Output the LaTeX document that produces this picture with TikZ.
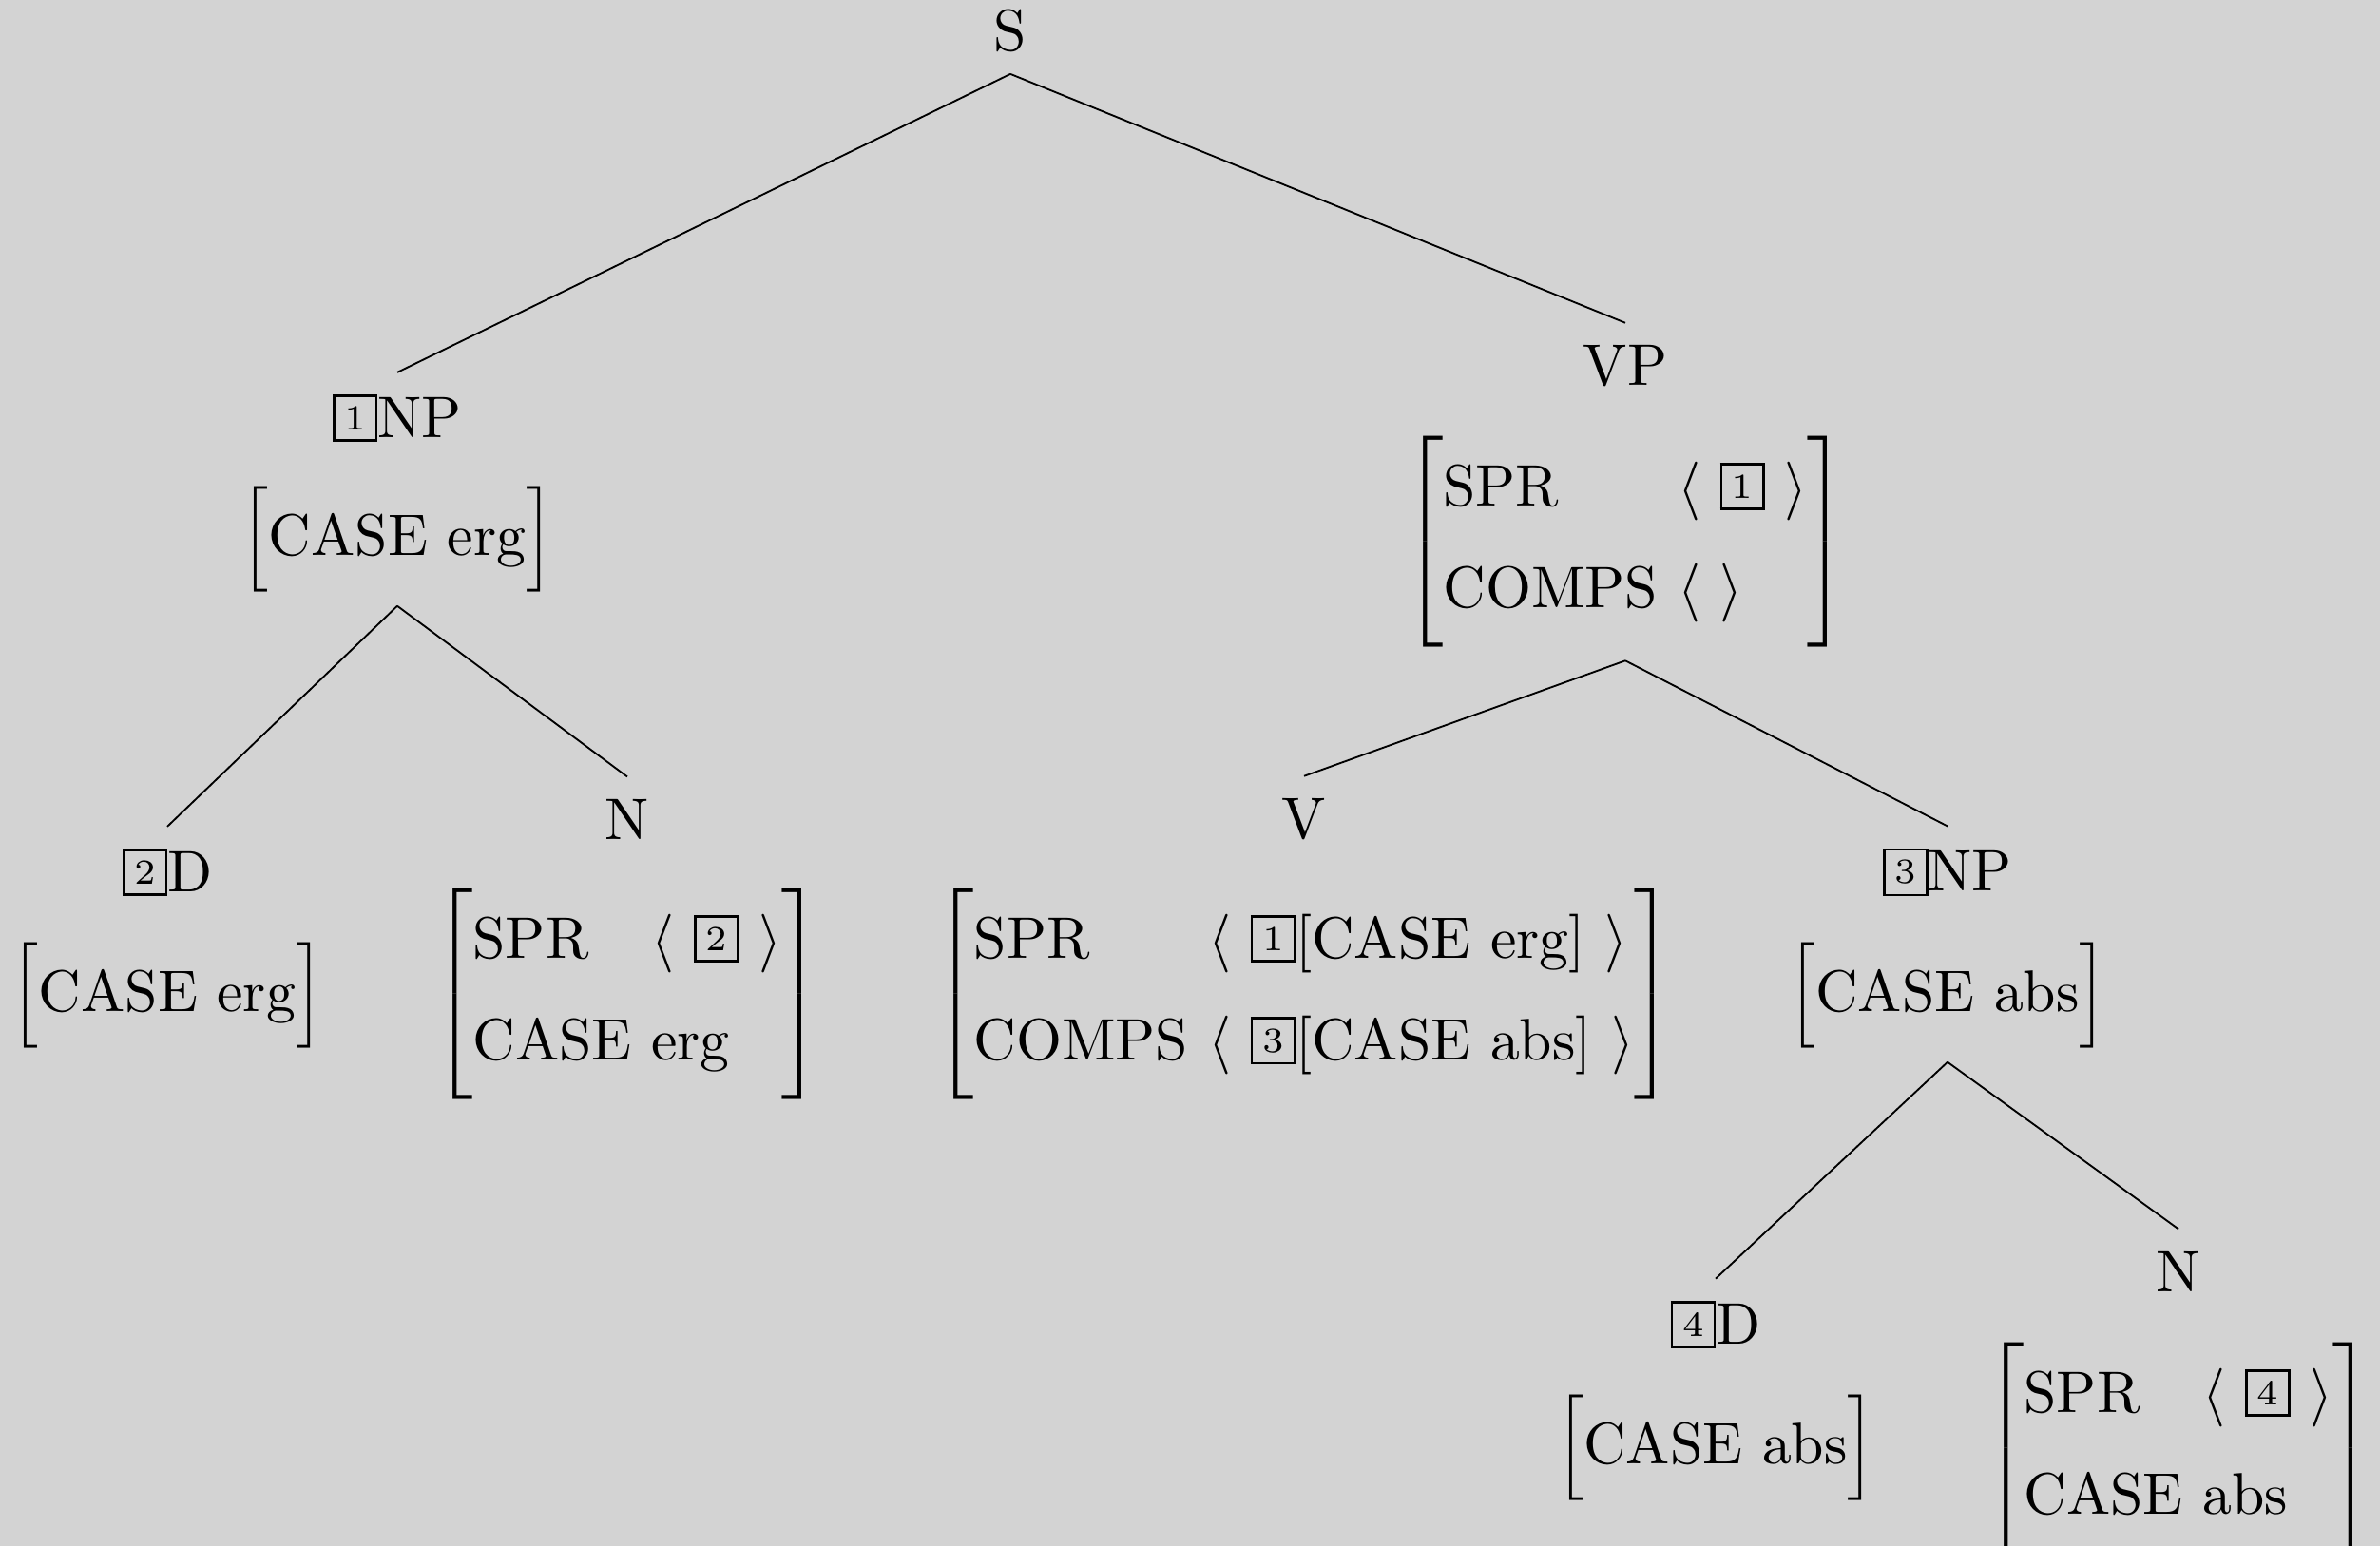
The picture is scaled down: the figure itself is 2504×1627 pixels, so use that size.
\documentclass[tikz,border=0pt]{standalone}
\usepackage{tikz}
\usetikzlibrary{calc,positioning}
\usepackage{xcolor}
\definecolor{slidegray}{HTML}{D3D3D3}
\renewcommand{\arraystretch}{1.44}
\newcommand{\tagbox}[1]{\raisebox{1.3pt}{\setlength{\fboxsep}{1.6pt}\fbox{\fontsize{6}{7}\selectfont #1}}}
\newcommand{\fsbox}[1]{$\left[\vphantom{\begin{tabular}{@{}l@{\hspace{3.4pt}}l@{}}#1\end{tabular}}\smash{\raisebox{0.9pt}{\begin{tabular}{@{}l@{\hspace{3.4pt}}l@{}}#1\end{tabular}}}\right]$}
\newcommand{\fsone}[1]{$\left[\vphantom{\begin{tabular}{@{}l@{}}#1\end{tabular}}\smash{\raisebox{0.8pt}{\begin{tabular}{@{}l@{}}#1\end{tabular}}}\right]$}
\newcommand{\attr}[1]{\makebox[27.1pt][l]{#1}}

\begin{document}
\begin{tikzpicture}[x=0.162pt,y=-0.162pt,line width=0.3pt,
  cat/.style={inner sep=0pt,outer sep=3.8pt},
  feat/.style={inner sep=0pt,outer sep=2.3pt}]
\fill[slidegray] (0,0) rectangle (2504,1627);
\useasboundingbox (0,0) rectangle (2504,1627);
% S
\node[cat] (s) at (1063,32) {S};
% subject NP
\node[cat] (np1) at (418,440) {\tagbox{1}NP};
\node[feat] (np1f) at (418,568) {\fsone{CASE erg}};
\node[cat] (d2) at (176,918) {\tagbox{2}D};
\node[feat] (d2f) at (176,1048) {\fsone{CASE erg}};
\node[cat] (n1) at (660,862) {N};
\node[feat] (n1f) at (660,1046) {\fsbox{\attr{SPR} & $\langle$\ \tagbox{2}\ $\rangle$ \\ \multicolumn{2}{@{}l@{}}{CASE erg}}};
% VP
\node[cat] (vp) at (1710,385) {VP};
\node[feat] (vpf) at (1710,570) {\fsbox{SPR & $\langle$\ \tagbox{1}\ $\rangle$ \\ COMPS & $\langle$\ $\rangle$}};
\node[cat] (v) at (1372,862) {V};
\node[feat] (vf) at (1372,1046) {\fsbox{SPR & $\langle$\ \tagbox{1}[CASE erg]\ $\rangle$ \\ COMPS & $\langle$\ \tagbox{3}[CASE abs]\ $\rangle$}};
% object NP
\node[cat] (np3) at (2049,918) {\tagbox{3}NP};
\node[feat] (np3f) at (2049,1048) {\fsone{CASE abs}};
\node[cat] (d4) at (1805,1394) {\tagbox{4}D};
\node[feat] (d4f) at (1805,1524) {\fsone{CASE abs}};
\node[cat] (n2) at (2292,1338) {N};
\node[feat] (n2f) at (2292,1524) {\fsbox{\attr{SPR} & $\langle$\ \tagbox{4}\ $\rangle$ \\ \multicolumn{2}{@{}l@{}}{CASE abs}}};
% branches
\draw (s.south) -- (np1.north);
\draw (s.south) -- (vp.north);
\draw (np1f.south) -- (d2.north);
\draw (np1f.south) -- (n1.north);
\draw (vpf.south) -- (v.north);
\draw (vpf.south) -- (np3.north);
\draw (np3f.south) -- (d4.north);
\draw (np3f.south) -- (n2.north);
\end{tikzpicture}
\end{document}
